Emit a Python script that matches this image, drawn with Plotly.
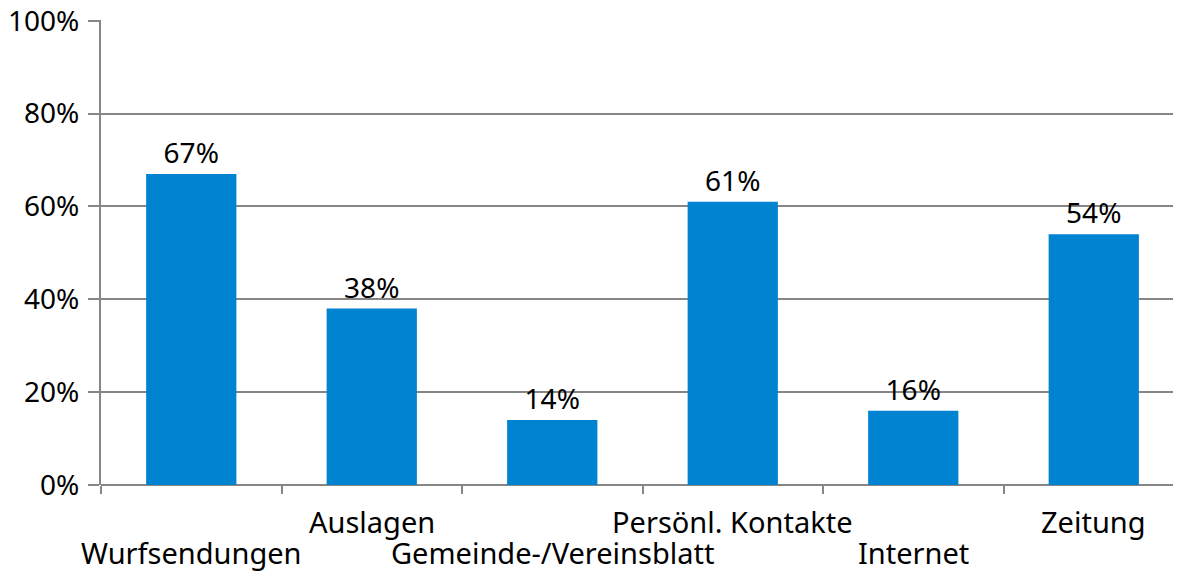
import plotly.graph_objects as go

categories = ["Wurfsendungen", "Auslagen", "Gemeinde-/Vereinsblatt",
              "Persönl. Kontakte", "Internet", "Zeitung"]
values = [67, 38, 14, 61, 16, 54]
y_ticks = [0, 20, 40, 60, 80, 100]
y_tick_labels = ["0%", "20%", "40%", "60%", "80%", "100%"]

FS = 28
PLOT_H = 572 - 12 - 95

fig = go.Figure(go.Bar(
    x=categories, y=values,
    marker=dict(color="#0083D1", line=dict(width=0)),
    width=0.5,
    text=[f"{v}%" for v in values],
    textposition="outside",
    textfont=dict(size=FS, color="#000000"),
    cliponaxis=False,
))

# staggered category labels: even index on lower row, odd on upper row
for i, c in enumerate(categories):
    off = 67 if i % 2 == 0 else 36
    fig.add_annotation(x=c, xref="x", y=-off / PLOT_H, yref="paper",
                       text=c, showarrow=False, xanchor="center", yanchor="middle",
                       font=dict(size=29, color="#000000"))

fig.update_layout(
    width=1181, height=572,
    margin=dict(l=93, r=5, t=12, b=95),
    paper_bgcolor="white", plot_bgcolor="white",
    font=dict(family="Noto Sans", size=FS, color="#000000"),
    showlegend=False,
    bargap=0.5,
)
fig.update_xaxes(
    tickmode="array", tickvals=categories,
    tickson="boundaries", ticks="outside", ticklen=8, tickcolor="#868686", tickwidth=2,
    showline=False, showgrid=False, showticklabels=False,
    range=[-0.5, 5.5],
    automargin=False,
)
fig.update_yaxes(
    range=[0, 100.15], tickvals=y_ticks, ticktext=y_tick_labels,
    showgrid=True, gridcolor="#868686", gridwidth=2,
    showline=True, linecolor="#868686", linewidth=2,
    ticks="outside", ticklen=11, tickcolor="#868686", tickwidth=2,
    zeroline=True, zerolinecolor="#868686", zerolinewidth=2,
    tickfont=dict(size=FS, color="#000000"),
    automargin=False, ticklabelstandoff=3, ticklabeloverflow="allow",
)
fig.write_html("out.html")
